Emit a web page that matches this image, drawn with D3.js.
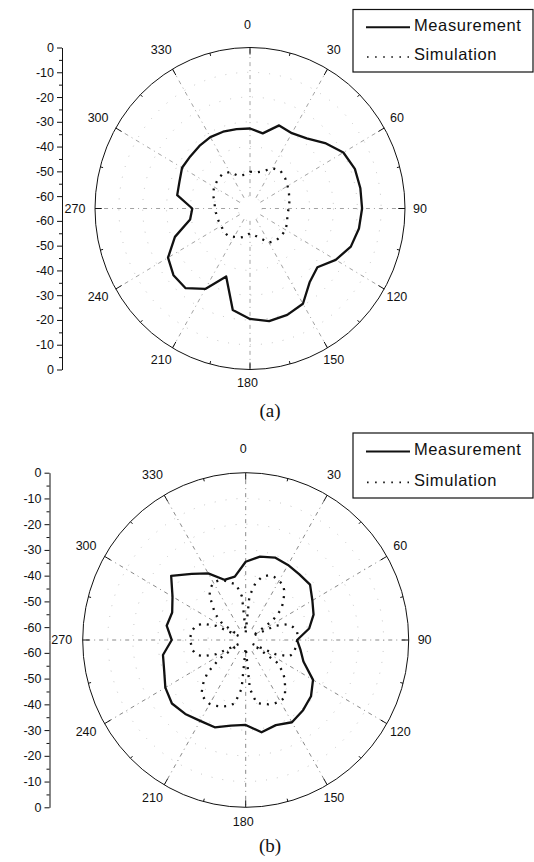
<!DOCTYPE html>
<html>
<head>
<meta charset="utf-8">
<script src="https://cdn.jsdelivr.net/npm/d3@7"></script>
<style>
  body { margin: 0; background: #fff; }
  svg text { font-family: "Liberation Sans", Arial, sans-serif; fill: #111; }
</style>
</head>
<body>
<svg id="chart" width="534" height="862"></svg>
<script>
// ---- data -------------------------------------------------------------
const angleLabels = [0, 30, 60, 90, 120, 150, 180, 210, 240, 270, 300, 330];
const dbTicks = [0, -10, -20, -30, -40, -50, -60];
const dbMinorTicks = [-5, -15, -25, -35, -45, -55];
const dbRings = [-10, -20, -30, -40, -50, -60];
const legendNames = ["Measurement", "Simulation"];
const panelTags = ["(a)", "(b)"];

// measured patterns, 10 degree steps
const angles10 = [0, 10, 20, 30, 40, 50, 60, 70, 80, 90, 100, 110, 120, 130, 140, 150, 160, 170,
                  180, 190, 200, 210, 220, 230, 240, 250, 260, 270, 280, 290, 300, 310, 320, 330, 340, 350];
const measA = [-32.7, -34.2, -29.3, -29.9, -28.0, -23.9, -19.8, -18.2, -18.0, -18.0, -18.6, -20.0,
               -23.5, -28.1, -26.1, -20.6, -19.3, -18.8, -20.4, -23.4, -35.8, -27.5, -23.0, -23.1,
               -25.3, -31.5, -39.5, -40.8, -34.0, -33.5, -32.1, -32.3, -32.0, -31.7, -32.0, -32.5];
const simA  = [-50.1, -50.2, -49.0, -46.2, -45.1, -45.8, -46.8, -47.6, -48.2, -48.8, -49.1, -48.4,
               -47.8, -47.8, -48.1, -49.1, -52.2, -54.0, -55.0, -53.5, -52.5, -51.8, -50.6, -50.7,
               -51.0, -50.9, -50.7, -50.3, -49.9, -48.5, -47.6, -47.2, -46.9, -48.0, -51.0, -51.2];
const measB = [-34.6, -32.1, -30.9, -31.3, -31.7, -31.5, -34.3, -36.2, -39.3, -44.5, -42.8, -40.5,
               -34.0, -31.0, -29.4, -28.1, -29.8, -28.6, -32.0, -31.2, -28.9, -28.7, -27.5, -26.6,
               -28.0, -30.4, -31.5, -35.5, -33.0, -33.8, -31.3, -26.2, -31.5, -35.1, -40.1, -40.0];

// simulated pattern (b), 5 degree steps
const angles5 = [0, 5, 10, 15, 20, 25, 30, 35, 40, 45, 50, 55, 60, 65, 70, 75, 80, 85,
                 90, 95, 100, 105, 110, 115, 120, 125, 130, 135, 140, 145, 150, 155, 160, 165, 170, 175,
                 180, 185, 190, 195, 200, 205, 210, 215, 220, 225, 230, 235, 240, 245, 250, 255, 260, 265,
                 270, 275, 280, 285, 290, 295, 300, 305, 310, 315, 320, 325, 330, 335, 340, 345, 350, 355];
const simB = [-62, -48, -42.5, -39.5, -38.2, -38.0, -38.5, -38.8, -41.0, -43.8, -46.5, -52,
              -62, -52, -47.0, -45.5, -44.3, -44.2, -44.5, -44.7, -45.0, -45.2, -46.5, -52,
              -62, -50, -45.5, -43.0, -40.5, -37.8, -37.5, -37.8, -38.4, -39.3, -40.1, -46,
              -62, -46, -40.0, -38.5, -37.5, -36.8, -36.3, -36.7, -37.5, -41.0, -45.0, -52,
              -62, -52, -46.5, -44.2, -43.4, -43.2, -42.8, -43.0, -43.4, -44.2, -46.5, -52,
              -62, -53, -49.0, -46.5, -42.5, -40.5, -39.2, -39.5, -40.5, -42.0, -43.0, -48];

// ---- drawing ------------------------------------------------------------
const svg = d3.select("#chart");
const rad = d => d * Math.PI / 180;

function drawPanel(p) {
  const g = svg.append("g");
  const r = d3.scaleLinear().domain([-65, 0]).range([0, p.ry]);
  const kx = p.rx / p.ry;
  const px = (a, v) => p.cx + kx * r(v) * Math.sin(rad(a));
  const py = (a, v) => p.cy - r(v) * Math.cos(rad(a));

  // faint dB rings
  g.selectAll(".ring").data(dbRings).join("ellipse")
    .attr("cx", p.cx).attr("cy", p.cy)
    .attr("rx", d => kx * r(d)).attr("ry", d => r(d))
    .attr("fill", "none").attr("stroke", "#b5b5b5").attr("stroke-width", 0.8)
    .attr("stroke-dasharray", "1,10");

  // radial spokes (start a little off the centre)
  g.selectAll(".spoke").data(angleLabels).join("line")
    .attr("x1", d => px(d, -60)).attr("y1", d => py(d, -60))
    .attr("x2", d => px(d, 0)).attr("y2", d => py(d, 0))
    .attr("stroke", p.spokeColor).attr("stroke-width", 0.8)
    .attr("stroke-dasharray", "4,4,1,4");

  // outer ring
  g.append("ellipse")
    .attr("cx", p.cx).attr("cy", p.cy).attr("rx", p.rx).attr("ry", p.ry)
    .attr("fill", "none").attr("stroke", "#111").attr("stroke-width", 1);

  // angular ticks on the outer ring
  const tickAngles = d3.range(0, 360, 15);
  g.selectAll(".atick").data(tickAngles).join("line")
    .attr("x1", d => px(d, 0)).attr("y1", d => py(d, 0))
    .attr("x2", d => p.cx + kx * (p.ry - (d % 30 === 0 ? 7 : 3)) * Math.sin(rad(d)))
    .attr("y2", d => p.cy - (p.ry - (d % 30 === 0 ? 7 : 3)) * Math.cos(rad(d)))
    .attr("stroke", "#111").attr("stroke-width", 1);

  // angle labels
  g.selectAll(".alabel").data(angleLabels).join("text")
    .attr("x", d => p.cx + kx * p.ry * (1.113) * Math.sin(rad(d)) - 2.5)
    .attr("y", d => p.cy - p.ry * (1.113 + 0.027 * Math.cos(rad(d))) * Math.cos(rad(d)))
    .attr("text-anchor", "middle").attr("dominant-baseline", "central")
    .attr("font-size", 12.5).text(d => d);

  // vertical dB axis: 0 at the rim, -65 at the centre, mirrored below
  const upper = d3.scaleLinear().domain([0, -65]).range([p.cy - p.ry, p.cy]);
  const lower = d3.scaleLinear().domain([-65, 0]).range([p.cy, p.cy + p.ry]);
  [upper, lower].forEach(s => {
    const ax = g.append("g").attr("transform", `translate(${p.axisX},0)`)
      .call(d3.axisLeft(s).tickValues(dbTicks).tickSize(5).tickSizeOuter(0)
        .tickFormat(d => String(d)));
    ax.attr("font-family", null).attr("font-size", null);
    ax.selectAll("text").attr("font-size", 12.5).attr("x", -8);
    ax.select(".domain").attr("stroke", "#111");
    ax.selectAll(".tick line").attr("stroke", "#111");
    const mn = g.append("g").attr("transform", `translate(${p.axisX},0)`)
      .call(d3.axisLeft(s).tickValues(dbMinorTicks).tickSize(3).tickSizeOuter(0).tickFormat(""));
    mn.select(".domain").remove();
    mn.selectAll(".tick line").attr("stroke", "#111");
  });

  // pattern curves
  const line = d3.line().x(d => px(d[0], d[1])).y(d => py(d[0], d[1])).curve(d3.curveLinearClosed);
  g.append("path").datum(d3.zip(p.simAngles, p.sim))
    .attr("d", line).attr("fill", "none").attr("stroke", "#111")
    .attr("stroke-width", 2.3).attr("stroke-dasharray", "2,6");
  g.append("path").datum(d3.zip(p.measAngles, p.meas))
    .attr("d", line).attr("fill", "none").attr("stroke", "#111")
    .attr("stroke-width", 2.3).attr("stroke-linejoin", "round");

  // legend
  const lg = g.append("g").attr("transform", `translate(353,${p.legendY})`);
  lg.append("rect").attr("x", 0).attr("y", 0).attr("width", 180).attr("height", p.legendH)
    .attr("fill", "#fff").attr("stroke", "#111").attr("stroke-width", 1.2);
  lg.append("line").attr("x1", 13).attr("x2", 57).attr("y1", p.legendH * 0.285).attr("y2", p.legendH * 0.285)
    .attr("stroke", "#111").attr("stroke-width", 2);
  lg.append("line").attr("x1", 14).attr("x2", 56).attr("y1", p.legendH * 0.76).attr("y2", p.legendH * 0.76)
    .attr("stroke", "#111").attr("stroke-width", 1.6).attr("stroke-dasharray", "1.6,6.5");
  lg.selectAll(".ltext").data(legendNames).join("text")
    .attr("x", 61).attr("y", (d, i) => p.legendH * (i === 0 ? 0.34 : 0.815))
    .attr("font-size", 16.5).attr("letter-spacing", 0.6).text(d => d);

  // panel tag
  g.append("text").attr("x", 270).attr("y", p.tagY).attr("text-anchor", "middle")
    .style("font-family", "'Liberation Serif', 'Times New Roman', serif")
    .attr("font-size", 19).text(p.tag);
}

drawPanel({
  cx: 250, cy: 208.5, rx: 155, ry: 161, axisX: 62, spokeColor: "#8a8a8a",
  measAngles: angles10, meas: measA, simAngles: angles10, sim: simA,
  legendY: 9.5, legendH: 62.5, tag: panelTags[0], tagY: 417
});
drawPanel({
  cx: 245.7, cy: 640, rx: 163, ry: 167.3, axisX: 49.5, spokeColor: "#6a6a6a",
  measAngles: angles10, meas: measB, simAngles: angles5, sim: simB,
  legendY: 433, legendH: 65, tag: panelTags[1], tagY: 852
});
</script>
</body>
</html>
